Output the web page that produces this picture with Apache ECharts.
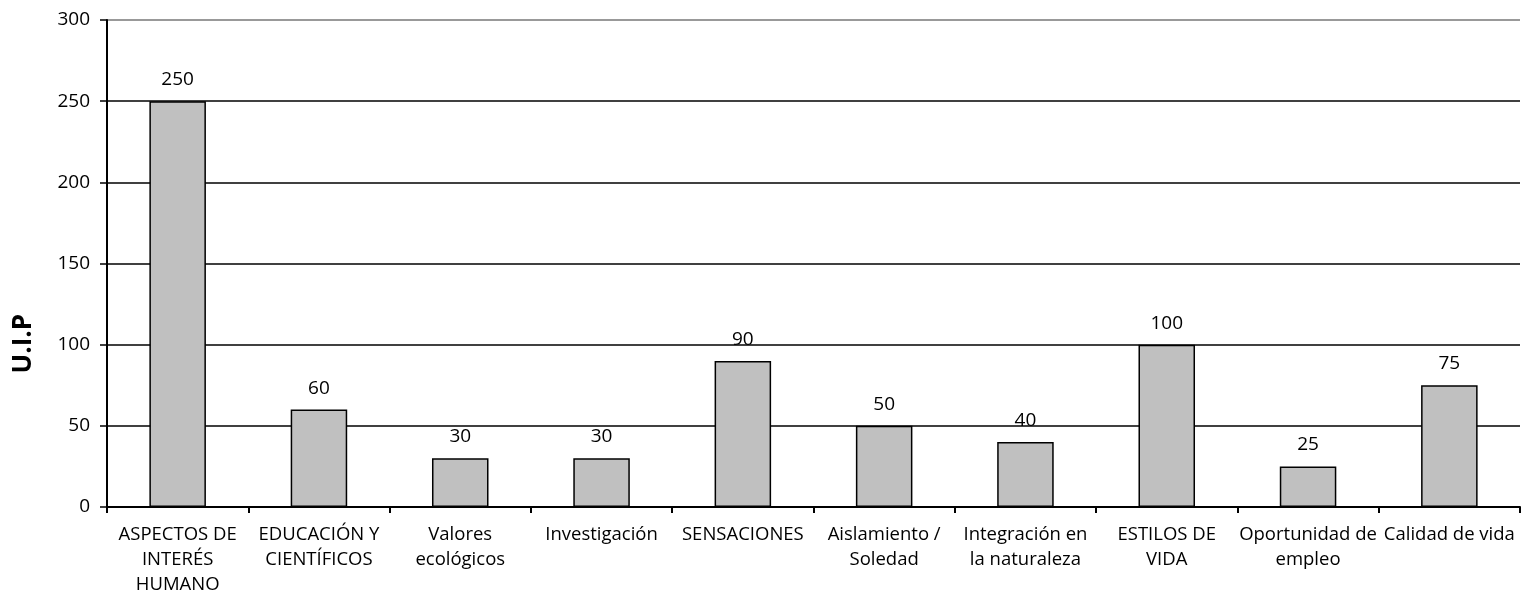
<!DOCTYPE html>
<html><head><meta charset="utf-8">
<script src="https://cdn.jsdelivr.net/npm/echarts@6/dist/echarts.min.js"></script>
<style>html,body{margin:0;padding:0;background:#fff}#c{width:1521px;height:593px}</style>
</head><body><div id="c"></div>
<script>
const categories = ["ASPECTOS DE\nINTERÉS\nHUMANO","EDUCACIÓN Y\nCIENTÍFICOS","Valores\necológicos","Investigación","SENSACIONES","Aislamiento /\nSoledad","Integración en\nla naturaleza","ESTILOS DE\nVIDA","Oportunidad de\nempleo","Calidad de vida"];
const values = [250,60,30,30,90,50,40,100,25,75];
const yTicks = [0,50,100,150,200,250,300];
const yTitle = "U.I.P";

const FONT = "'Open Sans', sans-serif";
const chart = echarts.init(document.getElementById('c'), null, {renderer:'canvas'});
chart.setOption({
  animation:false,
  backgroundColor:'#fff',
  grid:{left:107,right:1,top:20,bottom:86,containLabel:false,outerBoundsMode:'none'},
  xAxis:{type:'category',data:categories,
    axisLine:{lineStyle:{color:'#000',width:2}},
    axisTick:{show:true,length:6,lineStyle:{color:'#000',width:2}},
    axisLabel:{interval:0,hideOverlap:false,color:'#000',fontFamily:FONT,fontSize:18.5,lineHeight:25,margin:15}
  },
  yAxis:{type:'value',min:yTicks[0],max:yTicks[yTicks.length-1],interval:50,
    axisLine:{show:true,lineStyle:{color:'#000',width:2}},
    axisTick:{show:true,length:7,lineStyle:{color:'#000',width:1.5}},
    axisLabel:{color:'#000',fontFamily:FONT,fontSize:19,margin:17},
    splitLine:{show:true,lineStyle:{color:['#000','#000','#000','#000','#000','#000','#777'],width:1.5}}
  },
  graphic:[{type:'text',left:11,top:314,rotation:Math.PI/2,
    style:{text:yTitle,font:"bold 26px "+FONT,fill:'#000'}}],
  series:[{type:'bar',data:values,barWidth:'40%',
    itemStyle:{color:'#C0C0C0',borderColor:'#000',borderWidth:1.5},
    label:{show:true,position:'top',distance:12,color:'#000',fontFamily:FONT,fontSize:19}
  }]
});
</script></body></html>
